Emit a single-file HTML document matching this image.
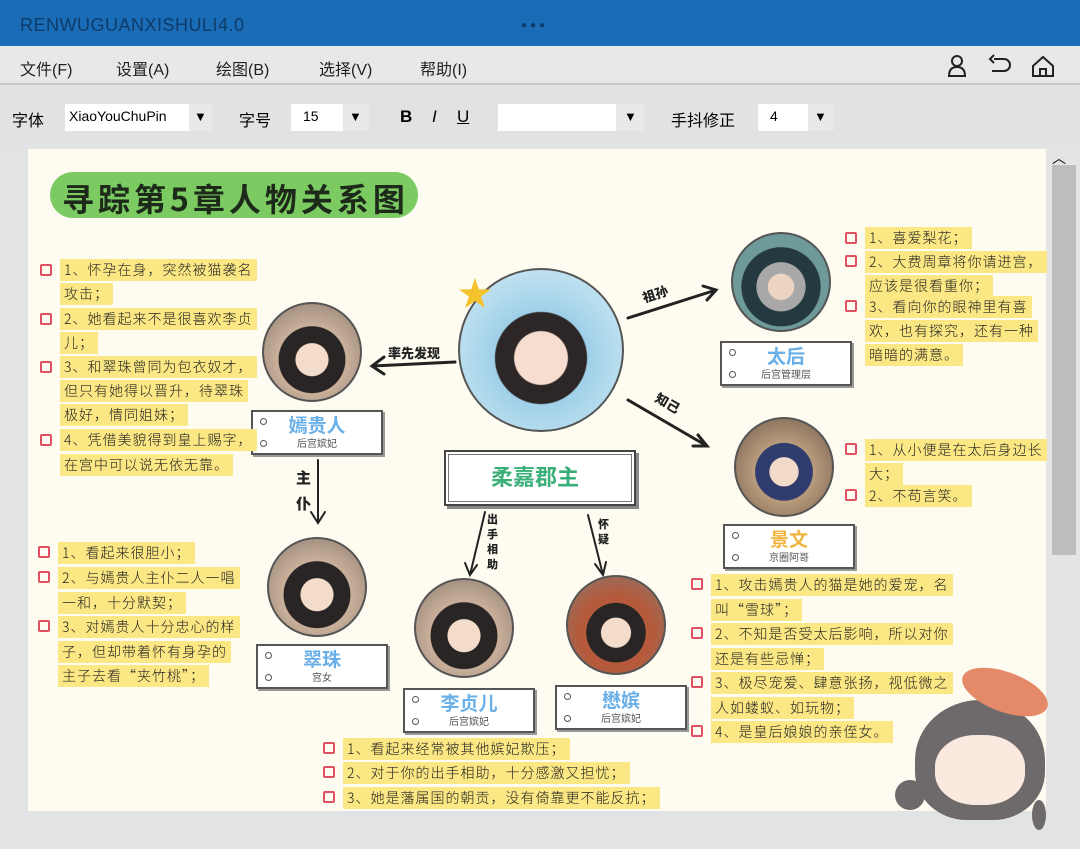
<!DOCTYPE html>
<html><head><meta charset="utf-8"><style>
*{margin:0;padding:0;box-sizing:border-box}
body{width:1080px;height:849px;overflow:hidden;background:#e2e3e5;font-family:"Liberation Sans","Noto Sans CJK SC",sans-serif;position:relative}
.a{position:absolute}
.t{position:absolute;font-size:14px;line-height:20px;color:#222;white-space:nowrap;font-family:"Noto Sans CJK SC",sans-serif;font-weight:300;letter-spacing:1px}
.t span{background:#fbe783;padding:1px 4px}
.cb{position:absolute;width:12px;height:12px;border:2px solid #e05060;border-radius:2px}
.pc{position:absolute;border-radius:50%;border:2px solid #555;background:radial-gradient(circle at 50% 58%,#f4dccb 0 22%,#2a2525 23% 45%,#c9b09a 46%,#8a7a70 100%)}
.box{position:absolute;background:#fff;border:2px solid #555;box-shadow:2px 2px 0 #999;text-align:center}
.box b{display:block;font-size:19px;line-height:24px;margin-top:3px;font-weight:700}
.box i{display:block;font-style:normal;font-size:10px;color:#555;line-height:12px}
.box:before,.box:after{content:"";position:absolute;left:7px;width:5px;height:5px;border:1px solid #555;border-radius:50%}
.box:before{top:6px}.box:after{bottom:6px}
.lb{position:absolute;font-size:13px;font-weight:900;color:#222;font-family:"Noto Sans CJK SC",sans-serif}
</style></head><body>
<div class="a" style="left:0;top:0;width:1080px;height:46px;background:#1b6cb6"></div>
<div class="a" style="left:20px;top:15px;font-size:18px;color:#0d3c6a;letter-spacing:0.5px">RENWUGUANXISHULI4.0</div>
<div class="a" style="left:521px;top:20px;font-size:10px;color:#0d3c6a;letter-spacing:3px">●●●</div>
<div class="a" style="left:0;top:46px;width:1080px;height:39px;background:#e7e8ea;border-bottom:2px solid #c8c9cb"></div>
<div class="a" style="top:56px;left:20px;font-size:16px;color:#222">文件(F)</div>
<div class="a" style="top:56px;left:116px;font-size:16px;color:#222">设置(A)</div>
<div class="a" style="top:56px;left:216px;font-size:16px;color:#222">绘图(B)</div>
<div class="a" style="top:56px;left:319px;font-size:16px;color:#222">选择(V)</div>
<div class="a" style="top:56px;left:420px;font-size:16px;color:#222">帮助(I)</div>
<svg class="a" style="left:940px;top:52px" width="120" height="30" fill="none" stroke="#222" stroke-width="2"><circle cx="17" cy="9" r="5"/><path d="M9 24 q0-9 8-9 q8 0 8 9 z"/><path d="M54 7 h10 a6 6 0 0 1 0 12 h-12 M54 3 l-4 4 4 4"/><path d="M93 14 l10-9 10 9 v10 h-20z M100 24 v-7 h6 v7"/></svg>
<div class="a" style="left:0;top:87px;width:1080px;height:59px;background:#e1e2e4"></div>
<div class="a" style="top:107px;left:12px;font-size:16px">字体</div>
<div class="a" style="top:104px;left:65px;width:124px;height:27px;background:#fff;font-size:14px;padding:4px 4px">XiaoYouChuPin</div>
<div class="a" style="top:104px;left:189px;width:23px;height:27px;background:#e8e8e8;font-size:13px;padding:5px 5px">▼</div>
<div class="a" style="top:107px;left:239px;font-size:16px">字号</div>
<div class="a" style="top:104px;left:291px;width:52px;height:27px;background:#fff;font-size:14px;padding:4px 12px">15</div>
<div class="a" style="top:104px;left:343px;width:26px;height:27px;background:#e8e8e8;font-size:13px;padding:5px 6px">▼</div>
<div class="a" style="top:107px;left:400px;font-size:17px;font-weight:bold">B</div>
<div class="a" style="top:107px;left:432px;font-size:17px;font-style:italic">I</div>
<div class="a" style="top:107px;left:457px;font-size:17px;text-decoration:underline">U</div>
<div class="a" style="top:104px;left:498px;width:118px;height:27px;background:#fff"></div>
<div class="a" style="top:104px;left:616px;width:28px;height:27px;background:#e8e8e8;font-size:13px;padding:5px 8px">▼</div>
<div class="a" style="top:107px;left:671px;font-size:16px">手抖修正</div>
<div class="a" style="top:104px;left:758px;width:50px;height:27px;background:#fff;font-size:14px;padding:4px 12px">4</div>
<div class="a" style="top:104px;left:808px;width:26px;height:27px;background:#e8e8e8;font-size:13px;padding:5px 6px">▼</div>
<div class="a" style="left:28px;top:149px;width:1018px;height:662px;background:#fefcf0"></div>
<div class="a" style="left:1046px;top:147px;width:34px;height:664px;background:#e4e4e4"></div>
<div class="a" style="left:1052px;top:148px;font-size:14px">︿</div>
<div class="a" style="left:1052px;top:165px;width:24px;height:390px;background:#bdbdbd"></div>
<div class="a" style="left:50px;top:172px;width:368px;height:46px;background:#7ccb62;border-radius:23px"></div>
<div class="a" style="left:62px;top:175px;font-size:32px;font-weight:700;color:#1d2a1a;letter-spacing:4px;font-family:'Noto Sans CJK SC',sans-serif">寻踪第5章人物关系图</div>
<svg class="a" style="left:0;top:0" width="1080" height="849" fill="none" stroke="#222" stroke-width="3" stroke-linecap="round">
<path d="M455 362 L372 366 M384 357 L372 366 384 374"/>
<path d="M628 318 L716 290 M703 286 L716 290 707 300"/>
<path d="M628 400 L707 446 M698 435 L707 446 693 446"/>
<path d="M318 460 V523 M311 512 L318 523 325 512" stroke-width="2"/>
<path d="M485 512 L470 575 M465 563 L470 575 477 565" stroke-width="2"/>
<path d="M588 515 L603 575 M595 564 L603 575 606 562" stroke-width="2"/>
</svg>
<div class="lb" style="left:388px;top:343px">率先发现</div>
<div class="lb" style="left:642px;top:284px;transform:rotate(-18deg)">祖孙</div>
<div class="lb" style="left:655px;top:393px;transform:rotate(30deg)">知己</div>
<div class="lb" style="left:296px;top:465px;font-size:15px;line-height:26px;width:16px">主仆</div>
<div class="lb" style="left:487px;top:512px;font-size:11px;line-height:15px;width:12px">出手相助</div>
<div class="lb" style="left:598px;top:517px;font-size:11px;line-height:15px;width:12px">怀疑</div>
<div class="pc" style="left:458px;top:268px;width:166px;height:164px;background:radial-gradient(circle at 50% 55%,#f6ddcf 0 22%,#2d2626 23% 38%,#9fd0e8 39%,#d9eef7 100%)"></div>
<div class="a" style="left:458px;top:278px;font-size:34px;color:#f3c22c;line-height:34px">★</div>
<div class="pc" style="left:262px;top:302px;width:100px;height:100px"></div>
<div class="pc" style="left:731px;top:232px;width:100px;height:100px;background:radial-gradient(circle at 50% 55%,#ecd4c2 0 18%,#a8a8a8 19% 34%,#243a40 35% 55%,#6f9a9a 56%)"></div>
<div class="pc" style="left:734px;top:417px;width:100px;height:100px;background:radial-gradient(circle at 50% 55%,#f1dac8 0 20%,#2f3d6e 21% 40%,#b99b7c 41%,#6e5a4c 100%)"></div>
<div class="pc" style="left:267px;top:537px;width:100px;height:100px"></div>
<div class="pc" style="left:414px;top:578px;width:100px;height:100px"></div>
<div class="pc" style="left:566px;top:575px;width:100px;height:100px;background:radial-gradient(circle at 50% 58%,#f4dccb 0 20%,#2a2525 21% 40%,#b55a3b 41% 50%,#8a7a70 100%)"></div>
<div class="a" style="left:444px;top:450px;width:192px;height:56px;background:#fff;border:2px solid #444;box-shadow:3px 3px 0 #888"></div>
<div class="a" style="left:448px;top:454px;width:184px;height:48px;border:1.5px solid #777"></div>
<div class="a" style="left:491px;top:460px;font-size:22px;font-weight:700;color:#3aaf78">柔嘉郡主</div>
<div class="box" style="left:251px;top:410px;width:132px;height:45px"><b style="color:#6ab0e8">嫣贵人</b><i>后宫嫔妃</i></div>
<div class="box" style="left:720px;top:341px;width:132px;height:45px"><b style="color:#6ab0e8">太后</b><i>后宫管理层</i></div>
<div class="box" style="left:723px;top:524px;width:132px;height:45px"><b style="color:#f0b43c">景文</b><i>京圈阿哥</i></div>
<div class="box" style="left:256px;top:644px;width:132px;height:45px"><b style="color:#6ab0e8">翠珠</b><i>宫女</i></div>
<div class="box" style="left:403px;top:688px;width:132px;height:45px"><b style="color:#6ab0e8">李贞儿</b><i>后宫嫔妃</i></div>
<div class="box" style="left:555px;top:685px;width:132px;height:45px"><b style="color:#6ab0e8">懋嫔</b><i>后宫嫔妃</i></div>
<div class="cb" style="left:40px;top:264px"></div><div class="t" style="left:60px;top:260px"><span>1、怀孕在身，突然被猫袭名</span></div>
<div class="t" style="left:60px;top:284px"><span>攻击；</span></div>
<div class="cb" style="left:40px;top:313px"></div><div class="t" style="left:60px;top:309px"><span>2、她看起来不是很喜欢李贞</span></div>
<div class="t" style="left:60px;top:333px"><span>儿；</span></div>
<div class="cb" style="left:40px;top:361px"></div><div class="t" style="left:60px;top:357px"><span>3、和翠珠曾同为包衣奴才，</span></div>
<div class="t" style="left:60px;top:381px"><span>但只有她得以晋升，待翠珠</span></div>
<div class="t" style="left:60px;top:405px"><span>极好，情同姐妹；</span></div>
<div class="cb" style="left:40px;top:434px"></div><div class="t" style="left:60px;top:430px"><span>4、凭借美貌得到皇上赐字，</span></div>
<div class="t" style="left:60px;top:455px"><span>在宫中可以说无依无靠。</span></div>
<div class="cb" style="left:38px;top:546px"></div><div class="t" style="left:58px;top:543px"><span>1、看起来很胆小；</span></div>
<div class="cb" style="left:38px;top:571px"></div><div class="t" style="left:58px;top:568px"><span>2、与嫣贵人主仆二人一唱</span></div>
<div class="t" style="left:58px;top:593px"><span>一和，十分默契；</span></div>
<div class="cb" style="left:38px;top:620px"></div><div class="t" style="left:58px;top:617px"><span>3、对嫣贵人十分忠心的样</span></div>
<div class="t" style="left:58px;top:642px"><span>子，但却带着怀有身孕的</span></div>
<div class="t" style="left:58px;top:666px"><span>主子去看“夹竹桃”；</span></div>
<div class="cb" style="left:323px;top:742px"></div><div class="t" style="left:343px;top:739px"><span>1、看起来经常被其他嫔妃欺压；</span></div>
<div class="cb" style="left:323px;top:766px"></div><div class="t" style="left:343px;top:763px"><span>2、对于你的出手相助，十分感激又担忧；</span></div>
<div class="cb" style="left:323px;top:791px"></div><div class="t" style="left:343px;top:788px"><span>3、她是藩属国的朝贡，没有倚靠更不能反抗；</span></div>
<div class="cb" style="left:845px;top:232px"></div><div class="t" style="left:865px;top:228px"><span>1、喜爱梨花；</span></div>
<div class="cb" style="left:845px;top:255px"></div><div class="t" style="left:865px;top:252px"><span>2、大费周章将你请进宫，</span></div>
<div class="t" style="left:865px;top:276px"><span>应该是很看重你；</span></div>
<div class="cb" style="left:845px;top:300px"></div><div class="t" style="left:865px;top:297px"><span>3、看向你的眼神里有喜</span></div>
<div class="t" style="left:865px;top:321px"><span>欢，也有探究，还有一种</span></div>
<div class="t" style="left:865px;top:345px"><span>暗暗的满意。</span></div>
<div class="cb" style="left:845px;top:443px"></div><div class="t" style="left:865px;top:440px"><span>1、从小便是在太后身边长</span></div>
<div class="t" style="left:865px;top:464px"><span>大；</span></div>
<div class="cb" style="left:845px;top:489px"></div><div class="t" style="left:865px;top:486px"><span>2、不苟言笑。</span></div>
<div class="cb" style="left:691px;top:578px"></div><div class="t" style="left:711px;top:575px"><span>1、攻击嫣贵人的猫是她的爱宠，名</span></div>
<div class="t" style="left:711px;top:600px"><span>叫“雪球”；</span></div>
<div class="cb" style="left:691px;top:627px"></div><div class="t" style="left:711px;top:624px"><span>2、不知是否受太后影响，所以对你</span></div>
<div class="t" style="left:711px;top:649px"><span>还是有些忌惮；</span></div>
<div class="cb" style="left:691px;top:676px"></div><div class="t" style="left:711px;top:673px"><span>3、极尽宠爱、肆意张扬，视低微之</span></div>
<div class="t" style="left:711px;top:698px"><span>人如蝼蚁、如玩物；</span></div>
<div class="cb" style="left:691px;top:725px"></div><div class="t" style="left:711px;top:722px"><span>4、是皇后娘娘的亲侄女。</span></div>
<div class="a" style="left:915px;top:700px;width:130px;height:120px;border-radius:50% 50% 40% 40%;background:#6e6a6c"></div>
<div class="a" style="left:935px;top:735px;width:90px;height:70px;border-radius:45%;background:#fbe9df"></div>
<div class="a" style="left:960px;top:672px;width:90px;height:40px;border-radius:50%;background:#e48a68;transform:rotate(20deg)"></div>
<div class="a" style="left:895px;top:780px;width:30px;height:30px;border-radius:50%;background:#6e6a6c"></div>
<div class="a" style="left:1032px;top:800px;width:14px;height:30px;border-radius:50%;background:#6e6a6c"></div>
</body></html>
